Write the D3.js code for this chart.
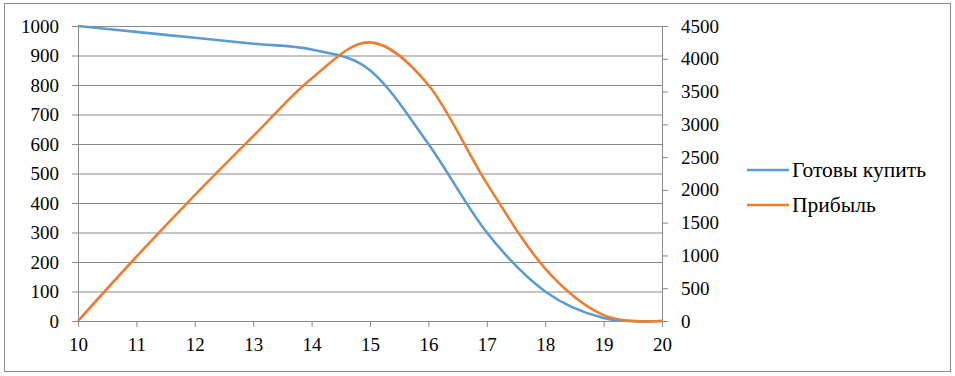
<!DOCTYPE html>
<html>
<head>
<meta charset="utf-8">
<script src="https://cdn.jsdelivr.net/npm/d3@7"></script>
<style>
  body { margin: 0; background: #fff; }
</style>
</head>
<body>
<svg id="chart" width="955" height="376"></svg>
<script>
// price points on the x axis
const prices = [10, 11, 12, 13, 14, 15, 16, 17, 18, 19, 20];
// "Готовы купить" - left axis
const buyers = [1000, 980, 960, 940, 920, 850, 600, 300, 100, 10, 0];
// "Прибыль" - right axis
const profit = [0, 980, 1920, 2820, 3700, 4250, 3600, 2100, 800, 90, 0];

const leftTicks = [0, 100, 200, 300, 400, 500, 600, 700, 800, 900, 1000];
const rightTicks = [0, 500, 1000, 1500, 2000, 2500, 3000, 3500, 4000, 4500];

const seriesNames = ["Готовы купить", "Прибыль"];
const colors = ["#5b9bd5", "#ed7d31"];

const FONT = "'Liberation Serif', 'Times New Roman', serif";
const svg = d3.select("#chart");
const gridColor = "#898989";

// outer frame
svg.append("rect")
    .attr("x", 4.5).attr("y", 3.5)
    .attr("width", 946).attr("height", 368)
    .attr("fill", "#fff")
    .attr("stroke", "#8c8c8c");

const x = d3.scaleLinear().domain([10, 20]).range([78, 662]);
const yL = d3.scaleLinear().domain([0, 1000]).range([321, 26]);
const yR = d3.scaleLinear().domain([0, 4500]).range([321, 26]);

function styleAxis(g) {
    g.attr("font-family", FONT).attr("font-size", 19);
    g.select(".domain").attr("stroke", gridColor);
    g.selectAll(".tick line").attr("stroke", gridColor);
    g.selectAll("text").style("font-family", FONT).style("font-size", "19px").attr("fill", "#000");
}

// horizontal grid + left ticks
svg.append("g")
    .attr("transform", "translate(78,0)")
    .call(d3.axisLeft(yL).tickValues(leftTicks).tickFormat(d3.format("d")).tickSize(6).tickSizeOuter(0).tickPadding(13))
    .call(g => g.selectAll(".tick line").clone()
        .attr("x2", 662 - 78))
    .call(styleAxis);

// right axis
svg.append("g")
    .attr("transform", "translate(662,0)")
    .call(d3.axisRight(yR).tickValues(rightTicks).tickFormat(d3.format("d")).tickSize(6).tickSizeOuter(0).tickPadding(13))
    .call(styleAxis);

// x axis
svg.append("g")
    .attr("transform", "translate(0,321)")
    .call(d3.axisBottom(x).tickValues(prices).tickFormat(d3.format("d")).tickSize(6).tickSizeOuter(0).tickPadding(11))
    .call(styleAxis);

const curve = d3.curveCardinal.tension(0);

const lineL = d3.line().x((d, i) => x(prices[i])).y(d => yL(d)).curve(curve);
const lineR = d3.line().x((d, i) => x(prices[i])).y(d => yR(d)).curve(curve);

svg.append("path")
    .attr("d", lineL(buyers))
    .attr("fill", "none")
    .attr("stroke", colors[0])
    .attr("stroke-width", 2.6)
    .attr("stroke-linejoin", "round");

svg.append("path")
    .attr("d", lineR(profit))
    .attr("fill", "none")
    .attr("stroke", colors[1])
    .attr("stroke-width", 2.6)
    .attr("stroke-linejoin", "round");

// legend
const legend = svg.append("g").attr("transform", "translate(747,170)");
seriesNames.forEach((name, i) => {
    const row = legend.append("g").attr("transform", `translate(0,${i * 35})`);
    row.append("line")
        .attr("x1", 0).attr("x2", 42)
        .attr("stroke", colors[i])
        .attr("stroke-width", 2.6);
    row.append("text")
        .attr("x", 45).attr("y", 7)
        .style("font-family", FONT)
        .style("font-size", "21.5px")
        .attr("fill", "#000")
        .text(name);
});
</script>
</body>
</html>
